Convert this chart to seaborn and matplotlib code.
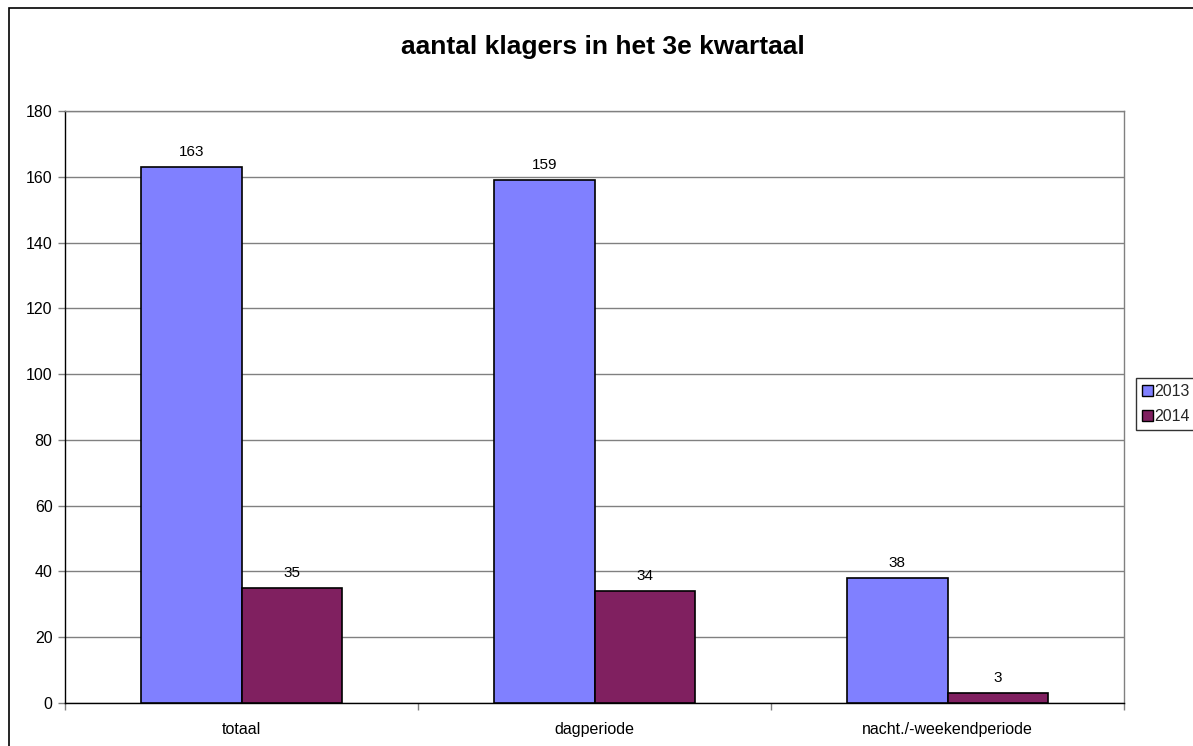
import matplotlib
matplotlib.use("Agg")
import matplotlib.pyplot as plt
import seaborn as sns
import pandas as pd
from matplotlib.patches import Rectangle
from matplotlib.ticker import FixedLocator, MultipleLocator

categories = ["totaal", "dagperiode", "nacht./-weekendperiode"]
years = ["2013", "2014"]
values_2013 = [163, 159, 38]
values_2014 = [35, 34, 3]
title = "aantal klagers in het 3e kwartaal"

df = pd.DataFrame({
    "categorie": categories * 2,
    "jaar": [years[0]] * 3 + [years[1]] * 3,
    "aantal": values_2013 + values_2014,
})

sns.set_theme(style="white")
plt.rcParams["font.family"] = ["Liberation Sans", "DejaVu Sans"]

W, H = 1193, 746
fig = plt.figure(figsize=(W / 100, H / 100), dpi=100)
fig.patch.set_facecolor("white")

# outer chart border
fig.patches.append(Rectangle((9 / W, -0.1), 1.2, 1 - 8 / H + 0.1, transform=fig.transFigure,
                             fill=False, edgecolor="black", linewidth=1.2, clip_on=False))

ax = fig.add_axes([65 / W, 1 - 703 / H, (1124 - 65) / W, (703 - 111) / H])
palette = {"2013": "#8080FF", "2014": "#802060"}
sns.barplot(data=df, x="categorie", y="aantal", hue="jaar", palette=palette,
            width=0.57, edgecolor="black", linewidth=1.2, saturation=1,
            ax=ax, legend=True, zorder=3)

ax.set_ylim(0, 180)
ax.set_xlim(-0.5, 2.5)
ax.yaxis.set_major_locator(MultipleLocator(20))
ax.grid(axis="y", color="#808080", linewidth=1, zorder=0)
ax.set_axisbelow(True)
ax.set_xlabel("")
ax.set_ylabel("")

for s in ["top", "right"]:
    ax.spines[s].set_color("#808080")
    ax.spines[s].set_linewidth(1)
for s in ["left", "bottom"]:
    ax.spines[s].set_color("black")
    ax.spines[s].set_linewidth(1)

ax.tick_params(axis="y", which="major", length=5, width=1, color="#808080",
               labelsize=11.5, labelcolor="black", left=True, pad=4)
ax.tick_params(axis="x", which="major", length=0, labelsize=11.5, labelcolor="black", pad=14)
ax.xaxis.set_minor_locator(FixedLocator([-0.5, 0.5, 1.5, 2.5]))
ax.tick_params(axis="x", which="minor", length=5, width=1, color="#808080", bottom=True)

for cont in ax.containers:
    ax.bar_label(cont, fmt="%d", padding=6, fontsize=11, color="black")

fig.text(603 / W, 1 - 47 / H, title, ha="center", va="center",
         fontsize=19, fontweight="bold", color="black")

leg = ax.get_legend()
leg.remove()
handles = [Rectangle((0, 0), 1, 1, facecolor=palette[y], edgecolor="black", linewidth=1) for y in years]
leg = fig.legend(handles, years, loc="upper left", bbox_to_anchor=(1136 / W, 1 - 378 / H),
                 bbox_transform=fig.transFigure, frameon=True, fancybox=False,
                 edgecolor="black", fontsize=11.5, handlelength=0.65, handleheight=0.65,
                 handletextpad=0.1, borderpad=0.4, labelspacing=0.6, borderaxespad=0)
leg.get_frame().set_linewidth(1)

fig.savefig("out.png", dpi=100)
